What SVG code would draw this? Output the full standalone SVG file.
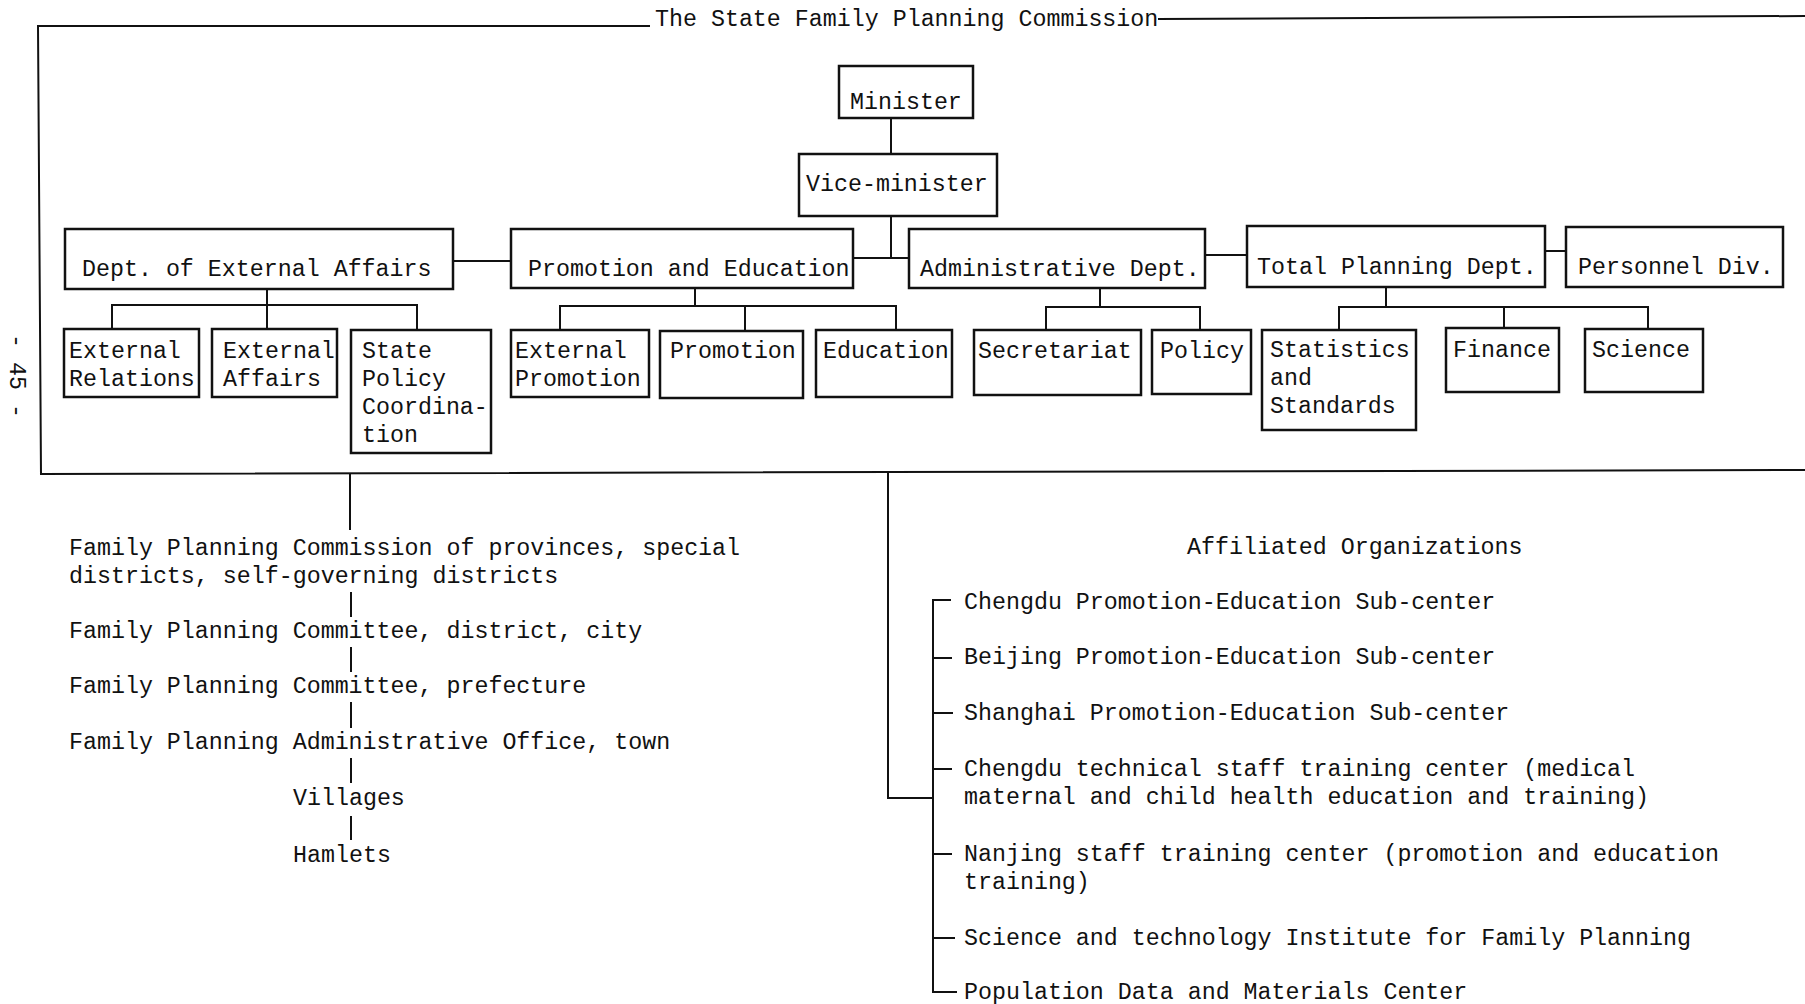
<svg xmlns="http://www.w3.org/2000/svg" width="1805" height="1004" viewBox="0 0 1805 1004">
<style>
text{font-family:"Liberation Mono","Courier New",monospace;font-size:23.3px;fill:#111}
.box{fill:none;stroke:#111;stroke-width:2.5}
.ln{fill:none;stroke:#111;stroke-width:2}
.fr{fill:none;stroke:#111;stroke-width:2}
</style>
<rect width="1805" height="1004" fill="#fff"/>
<g id="frame">
<polyline class="fr" points="650,26 38,26 41,474 1805,470"/>
<line class="fr" x1="1158" y1="19" x2="1805" y2="16"/>
<text x="655" y="26">The State Family Planning Commission</text>
</g>
<g id="page-number"><text transform="translate(10,376) rotate(90)" text-anchor="middle">- 45 -</text></g>
<g id="connectors">
<line class="ln" x1="891" y1="118" x2="891" y2="154"/>
<line class="ln" x1="891" y1="216" x2="891" y2="258"/>
<line class="ln" x1="853" y1="258" x2="909" y2="258"/>
<line class="ln" x1="453" y1="261" x2="511" y2="261"/>
<line class="ln" x1="1205" y1="255" x2="1247" y2="255"/>
<line class="ln" x1="1545" y1="251" x2="1566" y2="251"/>
<path class="ln" d="M267,289V305M112,329V305H417V330M267,305V329"/>
<path class="ln" d="M695,288V306M560,330V306H896V330M745,306V331"/>
<path class="ln" d="M1100,288V307M1046,330V307H1200V330"/>
<path class="ln" d="M1386,287V307M1339,330V307H1648V329M1504,307V328"/>
<path class="ln" d="M350,474V530M351,592V617M351,647V672M351,702V728M351,758V783M351,816V840"/>
<path class="ln" d="M888,471V798H933"/>
<path class="ln" d="M951,600H933V992H957M933,658H952M933,713H953M933,769H952M933,854H952M933,938H955"/>
</g>
<g id="minister"><rect class="box" x="839" y="66" width="134" height="52"/><text x="850" y="109">Minister</text></g>
<g id="vice-minister"><rect class="box" x="799" y="154" width="198" height="62"/><text x="806" y="191">Vice-minister</text></g>
<g id="dept-external"><rect class="box" x="65" y="229" width="388" height="60"/><text x="82" y="276">Dept. of External Affairs</text></g>
<g id="promotion-education"><rect class="box" x="511" y="229" width="342" height="59"/><text x="528" y="276">Promotion and Education</text></g>
<g id="administrative"><rect class="box" x="909" y="229" width="296" height="59"/><text x="920" y="276">Administrative Dept.</text></g>
<g id="total-planning"><rect class="box" x="1247" y="226" width="298" height="61"/><text x="1257" y="274">Total Planning Dept.</text></g>
<g id="personnel"><rect class="box" x="1566" y="227" width="217" height="60"/><text x="1578" y="274">Personnel Div.</text></g>
<g id="external-relations"><rect class="box" x="64" y="329" width="135" height="68"/><text x="69" y="358">External</text><text x="69" y="386">Relations</text></g>
<g id="external-affairs"><rect class="box" x="212" y="329" width="125" height="68"/><text x="223" y="358">External</text><text x="223" y="386">Affairs</text></g>
<g id="state-policy"><rect class="box" x="351" y="330" width="140" height="123"/><text x="362" y="358">State</text><text x="362" y="386">Policy</text><text x="362" y="414">Coordina-</text><text x="362" y="442">tion</text></g>
<g id="external-promotion"><rect class="box" x="511" y="330" width="138" height="67"/><text x="515" y="358">External</text><text x="515" y="386">Promotion</text></g>
<g id="promotion"><rect class="box" x="660" y="331" width="143" height="67"/><text x="670" y="358">Promotion</text></g>
<g id="education"><rect class="box" x="816" y="330" width="136" height="67"/><text x="823" y="358">Education</text></g>
<g id="secretariat"><rect class="box" x="974" y="330" width="167" height="65"/><text x="978" y="358">Secretariat</text></g>
<g id="policy"><rect class="box" x="1152" y="330" width="99" height="64"/><text x="1160" y="358">Policy</text></g>
<g id="statistics"><rect class="box" x="1262" y="330" width="154" height="100"/><text x="1270" y="357">Statistics</text><text x="1270" y="385">and</text><text x="1270" y="413">Standards</text></g>
<g id="finance"><rect class="box" x="1446" y="328" width="113" height="64"/><text x="1453" y="357">Finance</text></g>
<g id="science"><rect class="box" x="1585" y="329" width="118" height="63"/><text x="1592" y="357">Science</text></g>
<g id="provincial"><text x="69" y="555">Family Planning Commission of provinces, special</text><text x="69" y="583">districts, self-governing districts</text></g>
<g id="district"><text x="69" y="638">Family Planning Committee, district, city</text></g>
<g id="prefecture"><text x="69" y="693">Family Planning Committee, prefecture</text></g>
<g id="town"><text x="69" y="749">Family Planning Administrative Office, town</text></g>
<g id="villages"><text x="293" y="805">Villages</text></g>
<g id="hamlets"><text x="293" y="862">Hamlets</text></g>
<g id="affiliated-title"><text x="1187" y="554">Affiliated Organizations</text></g>
<g id="chengdu-sub"><text x="964" y="609">Chengdu Promotion-Education Sub-center</text></g>
<g id="beijing-sub"><text x="964" y="664">Beijing Promotion-Education Sub-center</text></g>
<g id="shanghai-sub"><text x="964" y="720">Shanghai Promotion-Education Sub-center</text></g>
<g id="chengdu-training"><text x="964" y="776">Chengdu technical staff training center (medical</text><text x="964" y="804">maternal and child health education and training)</text></g>
<g id="nanjing-training"><text x="964" y="861">Nanjing staff training center (promotion and education</text><text x="964" y="889">training)</text></g>
<g id="science-institute"><text x="964" y="945">Science and technology Institute for Family Planning</text></g>
<g id="population-center"><text x="964" y="999">Population Data and Materials Center</text></g>
</svg>
